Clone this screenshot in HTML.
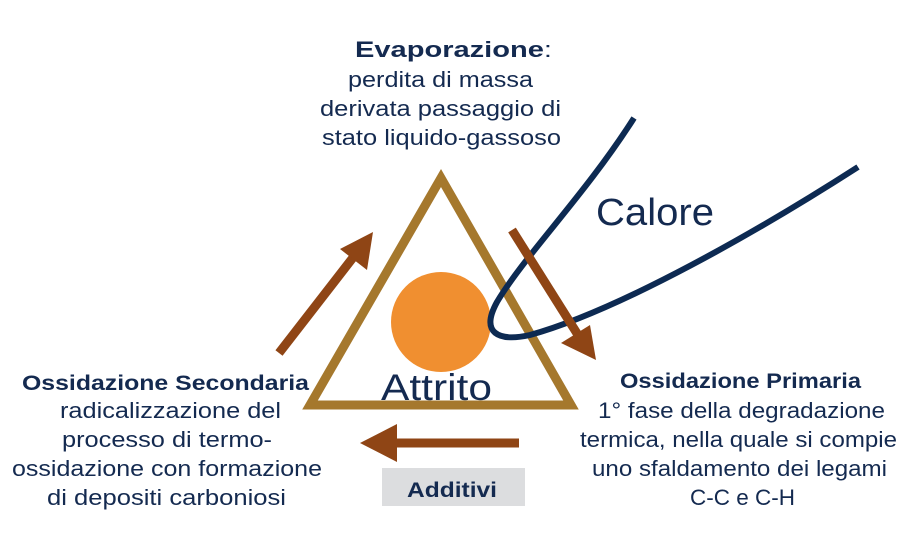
<!DOCTYPE html>
<html><head><meta charset="utf-8"><style>html,body{margin:0;padding:0;background:#fff}svg{display:block}</style></head>
<body>
<svg width="913" height="533" viewBox="0 0 913 533" xmlns="http://www.w3.org/2000/svg" font-family="Liberation Sans, sans-serif" fill="#142a50">
<rect width="913" height="533" fill="#fff"/>
<polygon points="441,178 310,405 571,405" fill="none" stroke="#a5782d" stroke-width="9" stroke-linejoin="miter"/>
<circle cx="441" cy="322" r="50" fill="#f08f30"/>
<path d="M634,118 C585,195 525,255 497,302 C480,333 498,342 530,335 C620,310 760,230 858,167" fill="none" stroke="#0d2a52" stroke-width="6"/>
<g fill="#8f4515" stroke="none">
<line x1="512" y1="230" x2="578" y2="335" stroke="#8f4515" stroke-width="9"/>
<polygon points="596,360 561,343 590,325"/>
<line x1="279" y1="353" x2="355" y2="255" stroke="#8f4515" stroke-width="9"/>
<polygon points="373,232 367,270 340,249"/>
<line x1="519" y1="443" x2="390" y2="443" stroke="#8f4515" stroke-width="9"/>
<polygon points="360,443 397,424 397,462"/>
</g>
<rect x="382" y="468" width="143" height="38" fill="#dcdddf"/>
<g text-anchor="start">
<text x="355" y="57" font-size="22" textLength="197" lengthAdjust="spacingAndGlyphs"><tspan font-weight="bold">Evaporazione</tspan>:</text>
<text x="348" y="87" font-size="22" textLength="185" lengthAdjust="spacingAndGlyphs">perdita di massa</text>
<text x="320" y="116" font-size="22" textLength="241" lengthAdjust="spacingAndGlyphs">derivata passaggio di</text>
<text x="322" y="145" font-size="22" textLength="239" lengthAdjust="spacingAndGlyphs">stato liquido-gassoso</text>
<text x="596" y="225" font-size="38" textLength="118" lengthAdjust="spacingAndGlyphs">Calore</text>
<text x="381" y="400" font-size="37" textLength="111" lengthAdjust="spacingAndGlyphs">Attrito</text>
<text x="22" y="390" font-size="21" font-weight="bold" textLength="287" lengthAdjust="spacingAndGlyphs">Ossidazione Secondaria</text>
<text x="60" y="418" font-size="22" textLength="221" lengthAdjust="spacingAndGlyphs">radicalizzazione del</text>
<text x="62" y="447" font-size="22" textLength="210" lengthAdjust="spacingAndGlyphs">processo di termo-</text>
<text x="12" y="476" font-size="22" textLength="310" lengthAdjust="spacingAndGlyphs">ossidazione con formazione</text>
<text x="47" y="505" font-size="22" textLength="239" lengthAdjust="spacingAndGlyphs">di depositi carboniosi</text>
<text x="620" y="388" font-size="21" font-weight="bold" textLength="241" lengthAdjust="spacingAndGlyphs">Ossidazione Primaria</text>
<text x="598" y="418" font-size="22" textLength="287" lengthAdjust="spacingAndGlyphs">1° fase della degradazione</text>
<text x="580" y="447" font-size="22" textLength="317" lengthAdjust="spacingAndGlyphs">termica, nella quale si compie</text>
<text x="592" y="476" font-size="22" textLength="295" lengthAdjust="spacingAndGlyphs">uno sfaldamento dei legami</text>
<text x="690" y="505" font-size="22" textLength="105" lengthAdjust="spacingAndGlyphs">C-C e C-H</text>
<text x="407" y="497" font-size="21" font-weight="bold" textLength="90" lengthAdjust="spacingAndGlyphs">Additivi</text>
</g>
</svg>
</body></html>
